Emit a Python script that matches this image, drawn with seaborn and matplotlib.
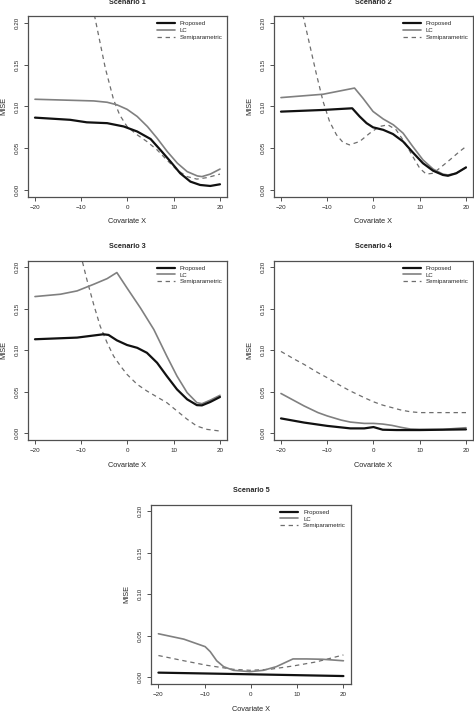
import matplotlib
matplotlib.use("Agg")
import matplotlib.pyplot as plt
import seaborn as sns

# ---- data (x = covariate, y = MISE) ----
x1_prop = [-20, -12.4, -8.8, -4.4, -0.8, 2.1, 5, 7.1, 9.3, 11.4, 13.6, 15.7, 17.9, 20]
s1_prop = [0.0866, 0.084, 0.081, 0.080, 0.076, 0.070, 0.061, 0.048, 0.034, 0.020, 0.010, 0.006, 0.0048, 0.0068]
x1_lc = [-20, -7.3, -4.4, -2.3, -0.1, 2.1, 4.3, 6.4, 8.6, 10.8, 12.9, 15.1, 16.1, 17.9, 20]
s1_lc = [0.1086, 0.1066, 0.105, 0.102, 0.0966, 0.088, 0.076, 0.062, 0.046, 0.032, 0.022, 0.0168, 0.016, 0.019, 0.025]
x1_semi = [-8, -7.1, -4.8, -3.0, -1.7, -0.1, 2.1, 4.2, 6.4, 8.5, 10.7, 12.9, 15, 17.2, 20]
s1_semi = [0.232, 0.208, 0.146, 0.108, 0.090, 0.076, 0.066, 0.058, 0.048, 0.036, 0.024, 0.016, 0.013, 0.0148, 0.019]

x2_prop = [-20, -10.9, -4.6, -3.0, -1.5, -0.1, 2.1, 4.2, 6.4, 8.5, 10.7, 12.9, 15, 16.1, 17.9, 20]
s2_prop = [0.0938, 0.0958, 0.0978, 0.088, 0.080, 0.075, 0.072, 0.067, 0.058, 0.045, 0.032, 0.023, 0.018, 0.017, 0.020, 0.027]
x2_lc = [-20, -10.9, -4.1, -2.3, -0.1, 2.1, 4.3, 6.4, 8.5, 10.7, 12.9, 15, 16.1, 17.9, 20]
s2_lc = [0.1106, 0.1146, 0.122, 0.110, 0.094, 0.085, 0.078, 0.068, 0.052, 0.036, 0.025, 0.019, 0.018, 0.020, 0.027]
x2_semi = [-16.5, -15.2, -13.8, -12.4, -10.9, -9.5, -8.0, -6.6, -5.2, -3.0, -0.8, 1.3, 3.1, 4.9,
           7.1, 8.5, 10.0, 11.4, 12.9, 14.3, 16.5, 18.6, 20]
s2_semi = [0.240, 0.208, 0.174, 0.140, 0.106, 0.082, 0.066, 0.057, 0.054, 0.058, 0.068, 0.076, 0.078, 0.072,
           0.054, 0.040, 0.026, 0.019, 0.020, 0.026, 0.036, 0.046, 0.052]

x3_prop = [-20, -10.9, -5.2, -4.1, -2.3, -0.1, 2.1, 4.2, 6.4, 8.5, 10.7, 12.9, 15, 16.1, 17.9, 20]
s3_prop = [0.1133, 0.1153, 0.1193, 0.1185, 0.112, 0.1064, 0.103, 0.097, 0.085, 0.069, 0.053, 0.041, 0.034, 0.0337, 0.0378, 0.0438]
x3_lc = [-20, -14.5, -10.9, -7.3, -4.4, -2.3, -0.1, 2.8, 5.7, 8.5, 10.7, 12.9, 15, 16.1, 17.9, 20]
s3_lc = [0.1647, 0.1675, 0.1715, 0.1795, 0.1863, 0.1936, 0.175, 0.151, 0.125, 0.093, 0.069, 0.049, 0.037, 0.0357, 0.040, 0.0458]
x3_semi = [-11, -9.8, -8.8, -7.3, -5.9, -4.4, -3.0, -1.5, -0.1, 2.1, 4.2, 6.4, 8.5, 10.7, 12.9, 15, 17.2, 20]
s3_semi = [0.235, 0.208, 0.1855, 0.155, 0.129, 0.109, 0.093, 0.081, 0.071, 0.059, 0.051, 0.0438, 0.037, 0.027, 0.017, 0.0088, 0.0048, 0.0028]

x4_prop = [-20, -15, -10, -5, -2, 0, 1, 2, 5, 10, 15, 20]
s4_prop = [0.018, 0.013, 0.009, 0.006, 0.006, 0.0076, 0.006, 0.0044, 0.004, 0.004, 0.0044, 0.0048]
x4_lc = [-20, -17, -15, -12, -10, -7, -5, -2, 0, 2, 4, 6, 8, 10, 15, 20]
s4_lc = [0.048, 0.039, 0.033, 0.025, 0.021, 0.016, 0.0136, 0.012, 0.012, 0.0112, 0.0096, 0.0072, 0.0052, 0.0048, 0.0048, 0.0068]
x4_semi = [-20, -17, -15, -12, -10, -7, -5, -2, 0, 2, 4, 6, 8, 10, 15, 20]
s4_semi = [0.0986, 0.089, 0.083, 0.073, 0.067, 0.057, 0.051, 0.043, 0.038, 0.034, 0.031, 0.028, 0.026, 0.025, 0.025, 0.025]

x5_prop = [-20, 0, 20]
s5_prop = [0.0057, 0.0037, 0.0016]
x5_lc = [-20, -14.5, -9.9, -8.8, -7.4, -5.9, -3.8, -0.2, 2.7, 5.5, 7.7, 9.1, 12, 15.5, 20]
s5_lc = [0.0525, 0.046, 0.037, 0.031, 0.020, 0.0129, 0.0085, 0.0069, 0.0085, 0.0129, 0.0186, 0.0222, 0.0222, 0.0218, 0.020]
x5_semi = [-20, -14.5, -9.5, -3.8, -0.2, 4.1, 9.1, 14.1, 20]
s5_semi = [0.0263, 0.020, 0.0145, 0.0097, 0.0085, 0.0097, 0.0137, 0.0186, 0.027]

scenarios = [
    ("Scenario 1", (x1_prop, s1_prop), (x1_lc, s1_lc), (x1_semi, s1_semi)),
    ("Scenario 2", (x2_prop, s2_prop), (x2_lc, s2_lc), (x2_semi, s2_semi)),
    ("Scenario 3", (x3_prop, s3_prop), (x3_lc, s3_lc), (x3_semi, s3_semi)),
    ("Scenario 4", (x4_prop, s4_prop), (x4_lc, s4_lc), (x4_semi, s4_semi)),
    ("Scenario 5", (x5_prop, s5_prop), (x5_lc, s5_lc), (x5_semi, s5_semi)),
]

sns.set_style("white")
plt.rcParams["font.family"] = ["Liberation Sans", "DejaVu Sans"]

fig = plt.figure(figsize=(4.74, 7.12), dpi=100)
w, h = 0.4215, 0.252
positions = [
    (0.0582, 0.7238, w, 0.2534),
    (0.5772, 0.7238, w, 0.2534),
    (0.0582, 0.382, w, h),
    (0.5772, 0.382, w, h),
    (0.3186, 0.0393, w, h),
]

frame = "#505050"
for pos, (title, prop, lc, semi) in zip(positions, scenarios):
    ax = fig.add_axes(pos)
    sns.lineplot(x=semi[0], y=semi[1], ax=ax, color="#6e6e6e", lw=0.9,
                 linestyle=(0, (3.5, 3)), label="Semiparametric")
    sns.lineplot(x=lc[0], y=lc[1], ax=ax, color="#808080", lw=1.2, label="LC")
    sns.lineplot(x=prop[0], y=prop[1], ax=ax, color="#111111", lw=1.6, label="Proposed")

    ax.set_xlim(-21.6, 21.6)
    ax.set_ylim(-0.008, 0.208)
    ax.set_xticks([-20, -10, 0, 10, 20])
    ax.set_yticks([0.0, 0.05, 0.10, 0.15, 0.20])
    ax.set_yticklabels(["0.00", "0.05", "0.10", "0.15", "0.20"], rotation=90, va="center")
    ax.tick_params(axis="both", direction="out", length=3, width=0.7, color=frame,
                   labelsize=4.5, pad=3, left=True, bottom=True)
    for sp in ax.spines.values():
        sp.set_color(frame)
        sp.set_linewidth(0.9)
    ax.set_xlabel("Covariate X", fontsize=5.3, labelpad=6)
    ax.set_ylabel("MISE", fontsize=5.3, labelpad=5)
    ax.set_title(title, fontsize=5.2, fontweight="bold", pad=9)

    handles, labels = ax.get_legend_handles_labels()
    order = [2, 1, 0]
    ax.legend([handles[i] for i in order], [labels[i] for i in order],
              loc="upper right", frameon=False, fontsize=4.4, handlelength=3,
              handletextpad=0.8, labelspacing=0.25, borderaxespad=0.4)

fig.savefig("out.png", dpi=100)
